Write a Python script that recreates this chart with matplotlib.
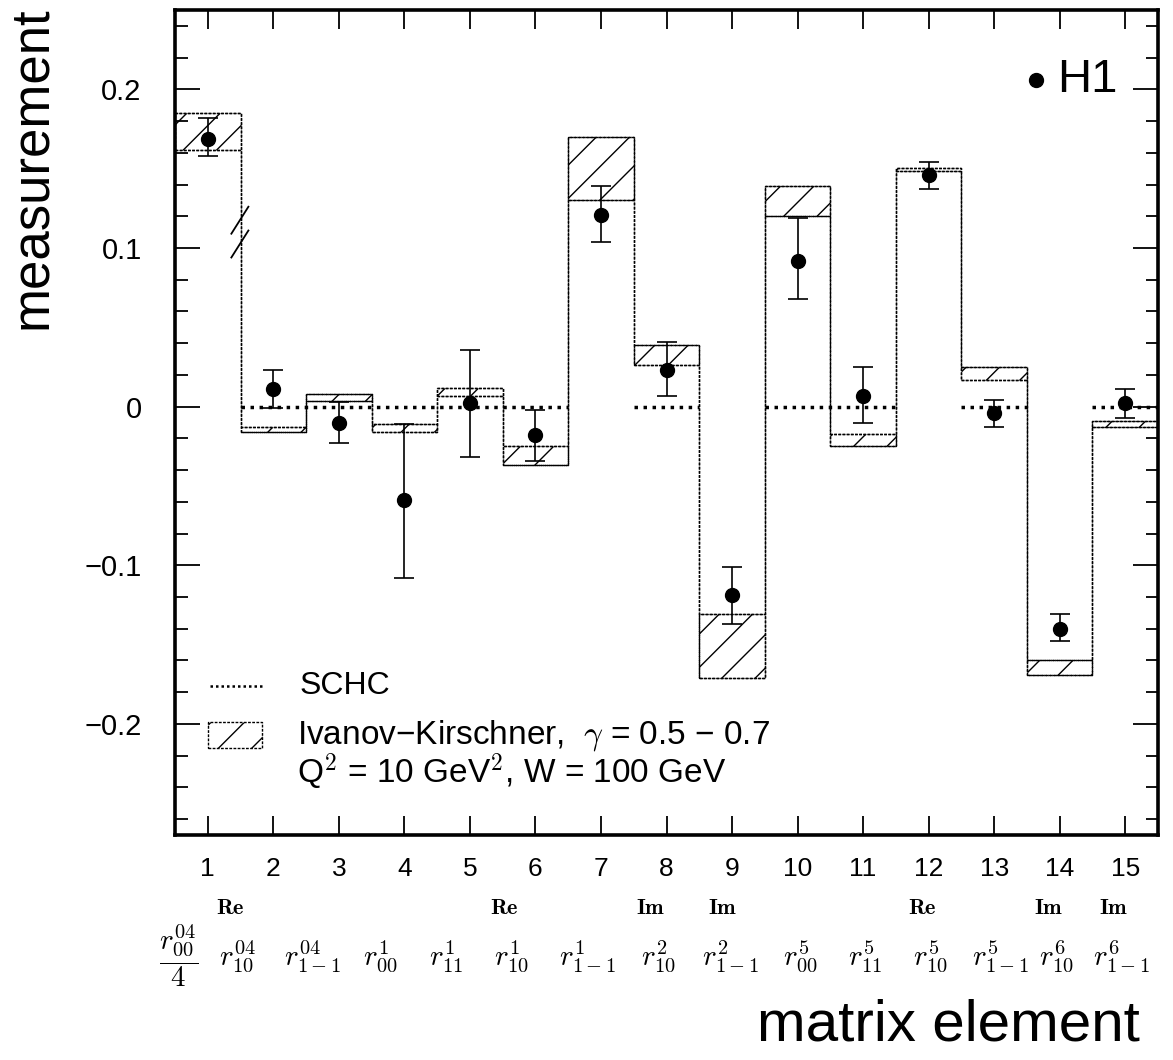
import numpy as np
import matplotlib
matplotlib.use("Agg")
import matplotlib.pyplot as plt
from matplotlib.patches import Rectangle
from matplotlib.ticker import MultipleLocator, FixedLocator

plt.rcParams['mathtext.fontset'] = 'cm'
plt.rcParams['hatch.linewidth'] = 1.0

SANS = ['Liberation Sans', 'DejaVu Sans']

# matrix element index
elements = np.arange(1, 16)

# H1 measurement with (upper, lower) errors
h1_val = [0.169, 0.011, -0.010, -0.059, 0.002, -0.018, 0.121, 0.023,
          -0.119, 0.092, 0.007, 0.146, -0.004, -0.140, 0.002]
h1_err_hi = [0.013, 0.012, 0.013, 0.048, 0.034, 0.016, 0.018, 0.018,
             0.018, 0.027, 0.018, 0.008, 0.008, 0.009, 0.009]
h1_err_lo = [0.011, 0.012, 0.013, 0.049, 0.034, 0.016, 0.017, 0.016,
             0.018, 0.024, 0.017, 0.009, 0.009, 0.008, 0.009]

# Ivanov-Kirschner band, gamma = 0.5 - 0.7
ik_low = [0.162, -0.016, 0.0036, -0.016, 0.007, -0.037, 0.130, 0.0265,
          -0.171, 0.120, -0.025, 0.1485, 0.0167, -0.1694, -0.013]
ik_high = [0.185, -0.013, 0.0078, -0.011, 0.012, -0.025, 0.170, 0.0387,
           -0.1306, 0.139, -0.0174, 0.1505, 0.0248, -0.1594, -0.0093]

# SCHC prediction (zero) for these runs of elements
schc_runs = [(2, 6), (8, 8), (10, 11), (13, 13), (15, 15)]
schc_value = 0.0

y_ticks = [-0.2, -0.1, 0.0, 0.1, 0.2]
y_ticklabels = ['\u22120.2', '\u22120.1', '0', '0.1', '0.2']

me_labels = [r'$\dfrac{r^{\mathbf{04}}_{\mathbf{00}}}{\mathbf{4}}$',
             r'$r^{\mathbf{04}}_{\mathbf{10}}$',
             r'$r^{\mathbf{04}}_{\mathbf{1-1}}$',
             r'$r^{\mathbf{1}}_{\mathbf{00}}$',
             r'$r^{\mathbf{1}}_{\mathbf{11}}$',
             r'$r^{\mathbf{1}}_{\mathbf{10}}$',
             r'$r^{\mathbf{1}}_{\mathbf{1-1}}$',
             r'$r^{\mathbf{2}}_{\mathbf{10}}$',
             r'$r^{\mathbf{2}}_{\mathbf{1-1}}$',
             r'$r^{\mathbf{5}}_{\mathbf{00}}$',
             r'$r^{\mathbf{5}}_{\mathbf{11}}$',
             r'$r^{\mathbf{5}}_{\mathbf{10}}$',
             r'$r^{\mathbf{5}}_{\mathbf{1-1}}$',
             r'$r^{\mathbf{6}}_{\mathbf{10}}$',
             r'$r^{\mathbf{6}}_{\mathbf{1-1}}$']
me_prefix = ['', 'Re', '', '', '', 'Re', '', 'Im', 'Im', '', '', 'Re', '', 'Im', 'Im']
me_label_x = [0.56, 1.46, 2.6, 3.63, 4.63, 5.64, 6.8, 7.88, 8.98,
              10.05, 11.03, 12.03, 13.1, 13.95, 14.95]

fig = plt.figure(figsize=(11.73, 10.6), dpi=100)
ax = fig.add_axes([175 / 1173, 1 - 835 / 1060, 983 / 1173, 825 / 1060])

edges = np.arange(0.5, 16.0, 1.0)
low = np.array(ik_low)
high = np.array(ik_high)

# hatched model boxes
for x, lo, hi in zip(elements, low, high):
    ax.add_patch(Rectangle((x - 0.5, lo), 1.0, hi - lo, fill=False,
                           hatch='/', edgecolor='black', lw=1.0,
                           ls=(0, (2, 1)), zorder=2))
# step outline connecting the boxes
ax.stairs(low, edges, baseline=None, color='black', lw=1.0,
          ls=(0, (2, 1)), zorder=2)
ax.stairs(high, edges, baseline=None, color='black', lw=1.0,
          ls=(0, (2, 1)), zorder=2)

# SCHC dotted lines
for a, b in schc_runs:
    ax.hlines(schc_value, a - 0.5, b + 0.5, colors='black', lw=2.5,
              linestyles=(0, (1, 1.6)), zorder=3)

# break mark on the first step
ax.plot([1.36, 1.62], [0.109, 0.126], color='black', lw=1.3, zorder=3)
ax.plot([1.36, 1.62], [0.094, 0.111], color='black', lw=1.3, zorder=3)

# H1 data
ax.errorbar(elements, h1_val, yerr=[h1_err_lo, h1_err_hi], fmt='o',
            color='black', ms=10, elinewidth=1.2, capsize=7, capthick=1.2,
            zorder=4)

ax.set_xlim(0.5, 15.5)
ax.set_ylim(-0.27, 0.25)
ax.xaxis.set_major_locator(FixedLocator(elements))
ax.set_xticklabels([str(e) for e in elements], family=SANS, size=19)
ax.yaxis.set_major_locator(FixedLocator(y_ticks))
ax.set_yticklabels(y_ticklabels, family=SANS, size=21)
ax.yaxis.set_minor_locator(MultipleLocator(0.02))
ax.tick_params(axis='both', which='both', direction='in', top=True,
               right=True, width=1.3)
ax.tick_params(axis='x', which='major', length=14, pad=16)
ax.tick_params(axis='y', which='major', length=18, pad=24)
ax.tick_params(axis='y', which='minor', length=9)
for s in ax.spines.values():
    s.set_linewidth(2.6)

# legend, drawn by hand like the original
ax.plot([0.036, 0.089], [0.181, 0.181], transform=ax.transAxes,
        color='black', lw=1.8, ls=(0, (1, 1.2)))
ax.text(0.127, 0.181, 'SCHC', transform=ax.transAxes, family=SANS,
        size=23, va='center')
ax.add_patch(Rectangle((0.034, 0.105), 0.055, 0.032, transform=ax.transAxes,
                       fill=False, hatch='/', edgecolor='black', lw=1.0,
                       ls=(0, (2, 1))))
ax.text(0.124, 0.121, 'Ivanov\u2212Kirschner,  $\\gamma$ = 0.5 \u2212 0.7',
        transform=ax.transAxes, family=SANS, size=24, va='center')
ax.text(0.124, 0.076, 'Q$^2$ = 10 GeV$^2$, W = 100 GeV',
        transform=ax.transAxes, family=SANS, size=24, va='center')

ax.plot([0.876], [0.915], 'o', color='black', ms=10, transform=ax.transAxes)
ax.text(0.897, 0.915, 'H1', transform=ax.transAxes, family=SANS,
        size=34, va='center')

# matrix element names below the tick numbers
trans = ax.get_xaxis_transform()
for x, lab, pre in zip(me_label_x, me_labels, me_prefix):
    ax.text(x, -0.147, lab, transform=trans, ha='center', va='center',
            size=21, clip_on=False)
    if pre:
        ax.text(x - 0.12, -0.088, r'$\mathbf{%s}$' % pre, transform=trans,
                ha='center', va='center', size=16, clip_on=False)

fig.text(0.027, 0.842, 'measurement', rotation=90, ha='center',
         va='center', family=SANS, size=38)
fig.text(0.972, 0.033, 'matrix element', ha='right', va='center',
         family=SANS, size=42)

fig.savefig('out.png', dpi=100)
